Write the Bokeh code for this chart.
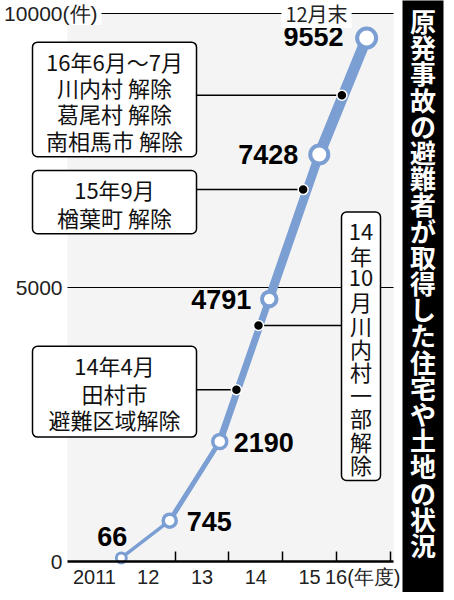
from bokeh.plotting import figure
from bokeh.layouts import row
from bokeh.models import ColumnDataSource, FixedTicker, Range1d, BoxAnnotation, Label
from bokeh.core.properties import value
from bokeh.embed import file_html
from bokeh.resources import INLINE

# ---------------- data ----------------
fiscal_year_labels = ["2011", "12", "13", "14", "15", "16(年度)"]
fiscal_year_centers = [2011, 2012, 2013, 2014, 2015, 2016]
fiscal_year_bounds = [2012.5, 2013.5, 2014.5, 2015.5, 2016.5]
point_x = [2011.50, 2012.40, 2013.33, 2014.25, 2015.18, 2016.06]
acquired = [66, 745, 2190, 4791, 7428, 9552]
y_ticks = [0, 5000, 10000]
y_tick_labels = ["0", "5000", "10000(件)"]
latest_note = "12月末"

event_x = [2013.64, 2014.05, 2014.88, 2015.60]
event_y = [3135, 4306, 6787, 8510]
event_lines = [
    ["14年4月", "田村市", "避難区域解除"],
    ["14", "年", "10", "月", "川", "内", "村", "一", "部", "解", "除"],
    ["15年9月", "楢葉町 解除"],
    ["16年6月〜7月", "川内村 解除", "葛尾村 解除", "南相馬市 解除"],
]
title = "原発事故の避難者が取得した住宅や土地の状況"

# ---------------- styles / layout ----------------
BLUE = "#7b9ed3"
seg_widths = [3.5, 5, 7, 9, 11]
marker_sizes = [10, 13, 14, 14.5, 18, 19]
marker_lw = [3, 3.5, 3.5, 4, 4, 4]
num_align = ["center", "left", "left", "right", "right", "right"]
num_xoff = [-9, 17, 14, -18, -21, -23]
num_yoff = [-21, 1, 1, 1, 0, -2]

X0 = 2010.5          # start of the data region (FY2011 start)
def dx(px):          # reference pixel -> x data
    return X0 + (px - 71) / 53.8

def dy(py):          # reference pixel -> y data
    return (569 - py) / 55.5 * 1000

H = 592
PX_PER_K = (561 - 13) / 10.0
y_top = 10000 + 13 / PX_PER_K * 1000
y_bot = -(H - 561) / PX_PER_K * 1000
x_end = dx(397)

p = figure(width=400, height=H, output_backend="svg", toolbar_location=None,
           x_range=Range1d(dx(4), dx(404)), y_range=Range1d(y_bot, y_top),
           min_border_left=0, min_border_right=0, min_border_top=0,
           min_border_bottom=0)
p.outline_line_color = None
p.background_fill_color = "white"
p.border_fill_color = "white"
p.yaxis.visible = False
p.grid.visible = False

# plot background
p.add_layout(BoxAnnotation(left=X0, right=x_end, bottom=0, top=10000,
                           fill_color="#f4f4f4", fill_alpha=1, line_color=None,
                           level="image"))

# horizontal reference lines at 5000 / 10000
p.segment(x0=[X0, X0], y0=y_ticks[1:], x1=[x_end, x_end], y1=y_ticks[1:],
          line_color="black", line_width=1.2)

# x axis, fixed at y = 0 inside the frame
xa = p.xaxis[0]
xa.fixed_location = 0
xa.bounds = (X0, x_end)
xa.ticker = FixedTicker(ticks=fiscal_year_centers, minor_ticks=fiscal_year_bounds)
xa.major_label_overrides = dict(zip(fiscal_year_centers, fiscal_year_labels))
xa.major_tick_line_color = None
xa.major_tick_in = 0
xa.major_tick_out = 0
xa.minor_tick_in = 10
xa.minor_tick_out = 0
xa.minor_tick_line_width = 1.5
xa.minor_tick_line_color = "black"
xa.axis_line_width = 2.5
xa.axis_line_color = "black"
xa.major_label_text_font = "Liberation Sans"
xa.major_label_text_font_size = "20px"
xa.major_label_text_color = "#222222"
xa.major_label_standoff = 4

# y tick labels (0, 5000) at the left of the data region
p.text(x=[X0, X0], y=y_ticks[:2], text=y_tick_labels[:2], x_offset=-5,
       text_align="right", text_baseline="middle",
       text_font=value("Liberation Sans"), text_font_size="21px",
       text_color="#222222")

# top labels on the 10000 line
p.add_layout(Label(x=X0, y=y_ticks[2], x_offset=34, text=y_tick_labels[2],
                   text_align="right", text_baseline="middle",
                   text_font="Liberation Sans", text_font_size="21px",
                   text_color="#222222", background_fill_color="white",
                   padding=dict(left=4, right=4, top=0, bottom=0)))
p.add_layout(Label(x=dx(320), y=y_ticks[2], text=latest_note,
                   text_align="center", text_baseline="middle",
                   text_font="Noto Sans CJK JP", text_font_size="20px",
                   text_color="#222222", background_fill_color="white",
                   padding=dict(left=4, right=4, top=0, bottom=0)))

# main line
src_seg = ColumnDataSource(dict(x0=point_x[:-1], y0=acquired[:-1],
                                x1=point_x[1:], y1=acquired[1:], w=seg_widths))
p.segment("x0", "y0", "x1", "y1", source=src_seg, line_color=BLUE,
          line_width="w", line_cap="round")
src_pts = ColumnDataSource(dict(x=point_x, y=acquired, s=marker_sizes, lw=marker_lw,
                                t=[str(v) for v in acquired], al=num_align,
                                xo=num_xoff, yo=num_yoff))
p.scatter("x", "y", source=src_pts, size="s", fill_color="white",
          line_color=BLUE, line_width="lw")
p.text("x", "y", text="t", source=src_pts, text_align="al", x_offset="xo",
       y_offset="yo", text_baseline="middle", text_font=value("Liberation Sans"),
       text_font_style="bold", text_font_size="27px", text_color="black")

# connectors
box_right = dx(200)
box4_left = dx(345)
conn_x0 = [box_right, event_x[1], box_right, box_right]
conn_x1 = [event_x[0], box4_left, event_x[2], event_x[3]]
p.segment(conn_x0, event_y, conn_x1, event_y, line_color="black", line_width=1.5)
p.scatter(event_x, event_y, size=10, fill_color="black", line_color="white",
          line_width=1.5)

# annotation boxes
box_specs = [
    (dx(36), dx(200), dy(351), dy(443)),
    (dx(345), dx(384), dy(215), dy(487)),
    (dx(36), dx(200), dy(173), dy(237)),
    (dx(36), dx(200), dy(43), dy(159)),
]
line_pos = [
    [370, 398, 425],
    [235 + 23.5 * i for i in range(11)],
    [192, 220],
    [62, 88, 115, 142],
]
for (l, r, tp, b), lines, ys in zip(box_specs, event_lines, line_pos):
    p.add_layout(BoxAnnotation(left=l, right=r, top=tp, bottom=b, fill_color="white",
                               fill_alpha=1, line_color="black", line_width=1.5,
                               line_alpha=1, border_radius=5))
    cx = (l + r) / 2
    for txt, yy in zip(lines, ys):
        p.add_layout(Label(x=cx, y=dy(yy), text=txt, text_align="center",
                           text_baseline="middle", text_font="Noto Sans CJK JP",
                           text_font_size="22px", text_color="#111111"))

# vertical title bar (separate narrow figure)
t = figure(width=46, height=H, output_backend="svg", toolbar_location=None,
           x_range=Range1d(0, 46), y_range=Range1d(H, 0),
           min_border_left=0, min_border_right=0, min_border_top=0,
           min_border_bottom=0)
t.axis.visible = False
t.grid.visible = False
t.outline_line_color = None
t.background_fill_color = "white"
t.border_fill_color = "white"
t.add_layout(BoxAnnotation(left=2, right=43, top=-10, bottom=H + 10,
                           fill_color="black", fill_alpha=1, line_color=None))
for i, ch in enumerate(title):
    t.add_layout(Label(x=22.5, y=20 + i * 26.2, text=ch,
                       text_align="center", text_baseline="middle",
                       text_font="Noto Sans CJK JP", text_font_style="bold",
                       text_font_size="26px", text_color="white"))

layout = row(p, t)
open("out.html", "w").write(file_html(layout, INLINE))
